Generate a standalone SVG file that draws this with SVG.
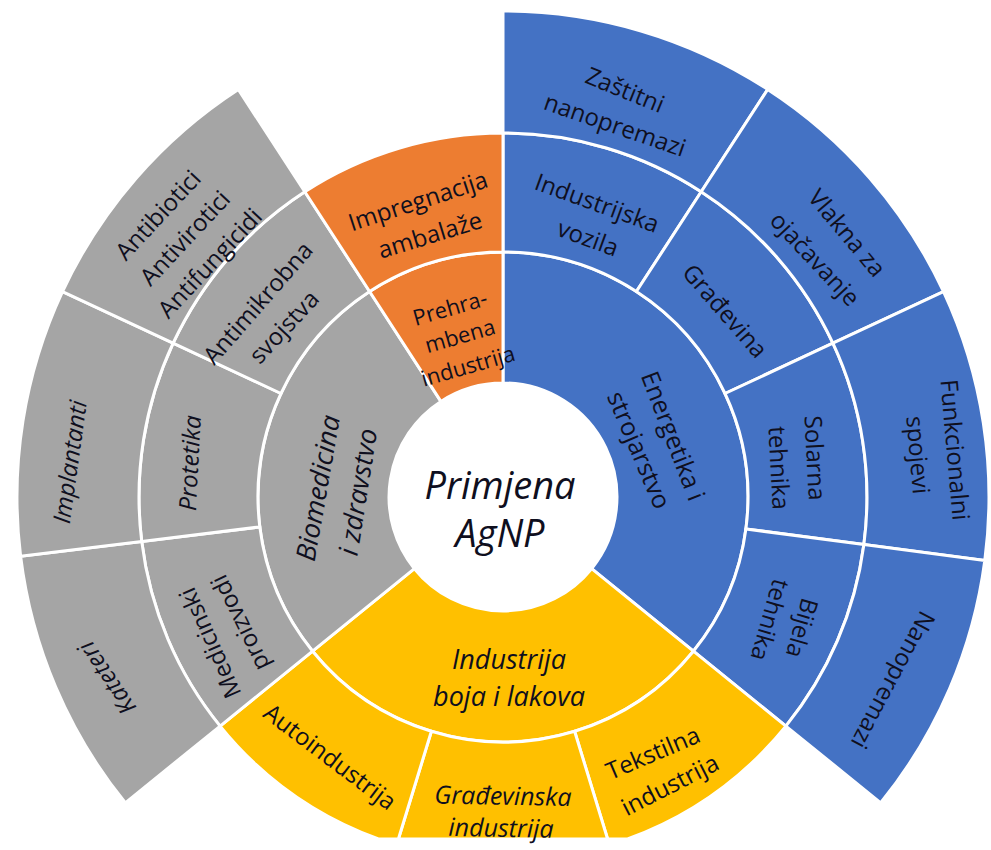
<svg xmlns="http://www.w3.org/2000/svg" width="991" height="850" viewBox="0 0 991 850">
<style>
.s{stroke:#ffffff;stroke-width:3;stroke-linejoin:round}
.blue{fill:#4472C4}.org{fill:#ED7D31}.gray{fill:#A5A5A5}.yel{fill:#FFC000}
.t{font-family:'Open Sans','Noto Sans',sans-serif;font-size:24px;fill:#0f0f1e;text-anchor:middle}
.i{font-style:italic}
</style>
<rect width="991" height="850" fill="#ffffff"/>
<g id="energetika">
<path class="s blue" d="M503,252 A245,245 0 0 1 693.4,651.2 L591.6,568.7 A114,114 0 0 0 503,383 Z"/>
<text class="t" style="font-size:25px" transform="translate(673 436) rotate(69)" dy="0.35em">Energetika i</text>
<text class="t" style="font-size:25px" transform="translate(639 450) rotate(67)" dy="0.35em">strojarstvo</text>
</g>
<g id="industrijska-vozila">
<path class="s blue" d="M503,133 A364,364 0 0 1 701.2,191.7 L636.4,291.5 A245,245 0 0 0 503,252 Z"/>
<text class="t" transform="translate(597 203) rotate(20)" dy="0.35em">Industrijska</text>
<text class="t" transform="translate(588 238) rotate(20)" dy="0.35em">vozila</text>
</g>
<g id="gradevina">
<path class="s blue" d="M701.2,191.7 A364,364 0 0 1 832.9,343.2 L725,393.5 A245,245 0 0 0 636.4,291.5 Z"/>
<text class="t" transform="translate(725 311) rotate(49)" dy="0.35em">Građevina</text>
</g>
<g id="solarna-tehnika">
<path class="s blue" d="M832.9,343.2 A364,364 0 0 1 863.9,544.5 L745.9,529 A245,245 0 0 0 725,393.5 Z"/>
<text class="t" transform="translate(815 458) rotate(87)" dy="0.35em">Solarna</text>
<text class="t" transform="translate(779 468) rotate(87)" dy="0.35em">tehnika</text>
</g>
<g id="bijela-tehnika">
<path class="s blue" d="M863.9,544.5 A364,364 0 0 1 785.9,726.1 L693.4,651.2 A245,245 0 0 0 745.9,529 Z"/>
<text class="t" transform="translate(802 628) rotate(106)" dy="0.35em">Bijela</text>
<text class="t" transform="translate(770 620) rotate(106)" dy="0.35em">tehnika</text>
</g>
<g id="zastitni-nanopremazi">
<path class="s blue" d="M503,11 A486,486 0 0 1 767.7,89.4 L701.2,191.7 A364,364 0 0 0 503,133 Z"/>
<text class="t" transform="translate(625 90) rotate(22)" dy="0.35em">Zaštitni</text>
<text class="t" transform="translate(615 125) rotate(19)" dy="0.35em">nanopremazi</text>
</g>
<g id="vlakna">
<path class="s blue" d="M767.7,89.4 A486,486 0 0 1 943.5,291.6 L832.9,343.2 A364,364 0 0 0 701.2,191.7 Z"/>
<text class="t" transform="translate(847 233) rotate(50)" dy="0.35em">Vlakna za</text>
<text class="t" transform="translate(815 259) rotate(47)" dy="0.35em">ojačavanje</text>
</g>
<g id="funkcionalni-spojevi">
<path class="s blue" d="M943.5,291.6 A486,486 0 0 1 984.8,560.4 L863.9,544.5 A364,364 0 0 0 832.9,343.2 Z"/>
<text class="t" transform="translate(955 450) rotate(85)" dy="0.35em">Funkcionalni</text>
<text class="t" transform="translate(918 455) rotate(85)" dy="0.35em">spojevi</text>
</g>
<g id="nanopremazi">
<path class="s blue" d="M984.8,560.4 A486,486 0 0 1 880.7,802.8 L785.9,726.1 A364,364 0 0 0 863.9,544.5 Z"/>
<text class="t" transform="translate(893 680) rotate(118)" dy="0.35em">Nanopremazi</text>
</g>
<g id="industrija-boja">
<path class="s yel" d="M591.6,568.7 L693.4,651.2 A245,245 0 0 1 312.6,651.2 L414.4,568.7 A114,114 0 0 0 591.6,568.7 Z"/>
<text class="t i" style="font-size:27px" transform="translate(509 660)" dy="0.35em">Industrija</text>
<text class="t i" style="font-size:27px" transform="translate(509 697)" dy="0.35em">boja i lakova</text>
</g>
<g id="tekstilna">
<path class="s yel" d="M693.4,651.2 L785.9,726.1 A364,364 0 0 1 627.6,839 L607.6,839 L574.6,731.3 A245,245 0 0 0 693.4,651.2 Z"/>
<text class="t" transform="translate(653 753) rotate(-23)" dy="0.35em">Tekstilna</text>
<text class="t" transform="translate(670 785) rotate(-27)" dy="0.35em">industrija</text>
</g>
<g id="gradevinska">
<path class="s yel" d="M431.4,731.3 A245,245 0 0 0 574.6,731.3 L607.6,839 L398.4,839 Z"/>
<text class="t i" style="font-size:25px" transform="translate(503 796) rotate(1)" dy="0.35em">Građevinska</text>
<text class="t i" style="font-size:25px" transform="translate(501 828) rotate(1)" dy="0.35em">industrija</text>
</g>
<g id="autoindustrija">
<path class="s yel" d="M312.6,651.2 L220.1,726.1 A364,364 0 0 0 378.4,839 L398.4,839 L431.4,731.3 A245,245 0 0 1 312.6,651.2 Z"/>
<text class="t" transform="translate(330 757) rotate(37)" dy="0.35em">Autoindustrija</text>
</g>
<g id="biomedicina">
<path class="s gray" d="M312.6,651.2 A245,245 0 0 1 369.6,291.5 L440.9,401.4 A114,114 0 0 0 414.4,568.7 Z"/>
<text class="t i" style="font-size:27px" transform="translate(318 488) rotate(-80)" dy="0.35em">Biomedicina</text>
<text class="t i" style="font-size:27px" transform="translate(358 492) rotate(-81)" dy="0.35em">i zdravstvo</text>
</g>
<g id="medicinski-proizvodi">
<path class="s gray" d="M220.1,726.1 A364,364 0 0 1 141.7,541.4 L259.8,526.9 A245,245 0 0 0 312.6,651.2 Z"/>
<text class="t" transform="translate(210 643) rotate(-114)" dy="0.35em">Medicinski</text>
<text class="t" transform="translate(240 623) rotate(-116)" dy="0.35em">proizvodi</text>
</g>
<g id="protetika">
<path class="s gray" d="M141.7,541.4 A364,364 0 0 1 173.1,343.2 L281,393.5 A245,245 0 0 0 259.8,526.9 Z"/>
<text class="t i" transform="translate(190 463) rotate(-87)" dy="0.35em">Protetika</text>
</g>
<g id="antimikrobna">
<path class="s gray" d="M173.1,343.2 A364,364 0 0 1 304.8,191.7 L369.6,291.5 A245,245 0 0 0 281,393.5 Z"/>
<text class="t" transform="translate(258 303) rotate(-49)" dy="0.35em">Antimikrobna</text>
<text class="t" transform="translate(284 327) rotate(-47)" dy="0.35em">svojstva</text>
</g>
<g id="kateteri">
<path class="s gray" d="M125.3,802.8 A486,486 0 0 1 20.6,556.2 L141.7,541.4 A364,364 0 0 0 220.1,726.1 Z"/>
<text class="t i" transform="translate(107 678) rotate(-124)" dy="0.35em">Kateteri</text>
</g>
<g id="implantanti">
<path class="s gray" d="M20.6,556.2 A486,486 0 0 1 62.5,291.6 L173.1,343.2 A364,364 0 0 0 141.7,541.4 Z"/>
<text class="t i" transform="translate(70 462) rotate(-82)" dy="0.35em">Implantanti</text>
</g>
<g id="antibiotici">
<path class="s gray" d="M62.5,291.6 A486,486 0 0 1 238.3,89.4 L304.8,191.7 A364,364 0 0 0 173.1,343.2 Z"/>
<text class="t" transform="translate(158 215) rotate(-47)" dy="0.35em">Antibiotici</text>
<text class="t" transform="translate(185 238) rotate(-47)" dy="0.35em">Antivirotici</text>
<text class="t" transform="translate(210 263) rotate(-47)" dy="0.35em">Antifungicidi</text>
</g>
<g id="prehrambena">
<path class="s org" d="M369.6,291.5 A245,245 0 0 1 503,252 L503,383 A114,114 0 0 0 440.9,401.4 Z"/>
</g>
<g id="impregnacija">
<path class="s org" d="M304.8,191.7 A364,364 0 0 1 503,133 L503,252 A245,245 0 0 0 369.6,291.5 Z"/>
<text class="t" transform="translate(418 201) rotate(-18)" dy="0.35em">Impregnacija</text>
<text class="t" transform="translate(430 235) rotate(-17)" dy="0.35em">ambalaže</text>
</g>
<g id="center">
<circle cx="503" cy="497" r="112" fill="#ffffff"/>
<text class="t i" style="font-size:38px" x="500" y="486" dy="0.35em">Primjena</text>
<text class="t i" style="font-size:38px" x="500" y="534" dy="0.35em">AgNP</text>
</g>
<g id="prehrambena-label">
<text class="t" style="font-size:22px" transform="translate(450 308) rotate(-16)" dy="0.35em">Prehra-</text>
<text class="t" style="font-size:22px" transform="translate(460 336) rotate(-16)" dy="0.35em">mbena</text>
<text class="t" style="font-size:22px" transform="translate(468 366) rotate(-16)" dy="0.35em">industrija</text>
</g>
</svg>
